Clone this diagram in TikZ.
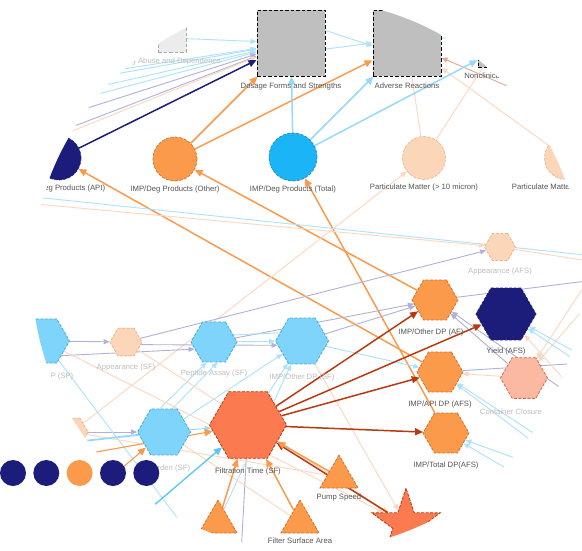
\documentclass[tikz,border=0pt]{standalone}
\usepackage{fontspec}
\setmainfont{Liberation Sans}
\usepackage{tikz}
\usepackage{xcolor}
\definecolor{netnavy}{RGB}{28, 28, 122}
\definecolor{netorange}{RGB}{252, 154, 76}
\definecolor{netorangedk}{RGB}{214, 112, 44}
\definecolor{netblue}{RGB}{27, 180, 246}
\definecolor{netbluedk}{RGB}{22, 140, 200}
\definecolor{netsky}{RGB}{126, 212, 250}
\definecolor{netskydk}{RGB}{70, 170, 222}
\definecolor{netpeach}{RGB}{252, 214, 184}
\definecolor{netpeachdk}{RGB}{240, 180, 140}
\definecolor{netcoral}{RGB}{252, 122, 80}
\definecolor{netrust}{RGB}{184, 58, 16}
\definecolor{netsalmon}{RGB}{251, 185, 162}
\definecolor{netsalmondk}{RGB}{208, 108, 78}
\definecolor{netgray}{RGB}{191, 191, 191}
\definecolor{skyline}{RGB}{150, 218, 250}
\definecolor{linksky}{RGB}{172, 226, 251}
\definecolor{linklav}{RGB}{176, 176, 218}
\definecolor{linkpeach}{RGB}{252, 214, 190}
\definecolor{linkbrown}{RGB}{220, 172, 150}
\definecolor{labelgray}{RGB}{85, 85, 85}
\definecolor{fadegray}{RGB}{190, 190, 190}
\usetikzlibrary{shapes.geometric,arrows.meta,backgrounds,positioning}

\begin{document}
\begin{tikzpicture}[x=1pt, y=-1pt,
    lbl/.style={font=\fontsize{7.7}{9}\selectfont, text=labelgray, inner sep=1pt},
    fadelbl/.style={lbl, text=fadegray},
    boxnode/.style={rectangle, draw=black, fill=netgray, dash pattern=on 3.5pt off 2pt, line width=1pt, inner sep=0pt},
    degnode/.style={circle, dash pattern=on 3pt off 1.5pt, line width=0.7pt, inner sep=0pt},
    hexnode/.style={regular polygon, regular polygon sides=6, dash pattern=on 3pt off 1.5pt, line width=0.8pt, inner sep=0pt},
    trinode/.style={regular polygon, regular polygon sides=3, fill=netorange, draw=netorangedk, dash pattern=on 3pt off 1.5pt, line width=0.8pt, inner sep=0pt, minimum size=44pt},
    link/.style={line width=0.9pt, -{Triangle[length=6pt,width=5pt]}},
    flow/.style={line width=1.5pt, -{Triangle[length=8pt,width=7pt]}}
]
    \useasboundingbox (0,0) rectangle (582,550);

    \begin{scope}
        \clip (307,275) circle [radius=275pt];

        % Sections (boxes)
        \node[boxnode, draw=gray!70, fill=gray!15, minimum size=28pt, label={[fadelbl, label distance=4pt, xshift=-2pt]below:Drug Abuse and Dependence}] (abuse) at (172,38) {};
        \node[boxnode, minimum width=68pt, minimum height=66pt, label={[lbl, label distance=5pt]below:Dosage Forms and Strengths}] (dosage) at (291,43) {};
        \node[boxnode, minimum width=68pt, minimum height=66pt, label={[lbl, label distance=5pt]below:Adverse Reactions}] (adverse) at (407,43) {};
        \node[boxnode, minimum size=30pt, label={[lbl, label distance=4pt, xshift=-10pt]below:Nonclinical}] (nonclin) at (493,52) {};

        % Degradation products
        \node[degnode, fill=netnavy, draw=netnavy, minimum size=44pt, label={[lbl, label distance=3pt, xshift=5pt]below:IMP/Deg Products (API)}] (degapi) at (59,158) {};
        \node[degnode, fill=netorange, draw=netorangedk, minimum size=44pt, label={[lbl, label distance=3pt]below:IMP/Deg Products (Other)}] (degother) at (175,159) {};
        \node[degnode, fill=netblue, draw=netbluedk, minimum size=48pt, label={[lbl, label distance=3pt]below:IMP/Deg Products (Total)}] (degtotal) at (293,157) {};
        \node[degnode, fill=netpeach, draw=netpeachdk, minimum size=43pt, label={[lbl, label distance=3pt]below:Particulate Matter (> 10 micron)}] (partmat) at (424,158) {};
        \node[degnode, fill=netpeach, draw=netpeachdk, minimum size=43pt, label={[lbl, label distance=3pt]below:Particulate Matter (> 25 micron)}] (partmatb) at (566,158) {};

        % Attributes (hexagons)
        \node[hexnode, fill=netpeach, draw=netpeachdk, minimum size=31pt, label={[fadelbl, label distance=6pt]below:Appearance (AFS)}] (appafs) at (500,247) {};
        \node[hexnode, fill=netorange, draw=netorangedk, minimum size=46pt, label={[lbl, label distance=7pt, xshift=-4pt]below:IMP/Other DP (AF)}] (othaf) at (435,300) {};
        \node[hexnode, fill=netnavy, draw=netnavy, minimum size=60pt, label={[lbl, label distance=6pt]below:Yield (AFS)}] (yield) at (506,314) {};
        \node[hexnode, fill=netorange, draw=netorangedk, minimum size=46pt, label={[lbl, label distance=7pt]below:IMP/API DP (AFS)}] (apiafs) at (440,372) {};
        \node[hexnode, fill=netsalmon, draw=netsalmondk, minimum size=47pt, label={[fadelbl, label distance=9pt, xshift=-13pt]below:Container Closure}] (closure) at (524,378) {};
        \node[hexnode, fill=netorange, draw=netorangedk, minimum size=46pt, label={[lbl, label distance=7pt]below:IMP/Total DP(AFS)}] (totafs) at (446,433) {};
        \node[hexnode, fill=netpeach, draw=netpeachdk, minimum size=32pt, label={[fadelbl, label distance=6pt]below:Appearance (SF)}] (appsf) at (126,342) {};
        \node[hexnode, fill=netsky, draw=netskydk, minimum size=46pt, label={[fadelbl, label distance=6pt]below:Peptide Assay (SF)}] (peptide) at (214,342) {};
        \node[hexnode, fill=netsky, draw=netskydk, minimum size=53pt, label={[fadelbl, label distance=8pt]below:IMP/Other DP (SF)}] (othsf) at (302,341) {};
        \node[hexnode, fill=netsky, draw=netskydk, minimum size=51pt, label={[fadelbl, label distance=8pt]below:IMP/API DP (SP)}] (apisf) at (44,341) {};
        \node[hexnode, fill=netsky, draw=netskydk, minimum size=53pt, label={[fadelbl, label distance=8pt]below:Bioburden (SF)}] (bioburden) at (164,432) {};
        \node[hexnode, fill=netpeach, draw=netpeachdk, minimum size=32pt] (appleft) at (72,432) {};
        \node[hexnode, fill=netcoral, draw=netrust, minimum size=77pt, label={[lbl, label distance=8pt]below:Filtration Time (SF)}] (filt) at (248,425) {};

        % Process parameters
        \node[trinode, label={[lbl, label distance=4pt]below:Pump Speed}] (pump) at (339,477) {};
        \node[trinode] (trileft) at (218,522) {};
        \node[trinode, label={[lbl, label distance=3pt]below:Filter Surface Area}] (filtsurf) at (300,522) {};
        \node[star, star points=5, star point ratio=2.6, minimum size=72pt, fill=netcoral, draw=netrust, dash pattern=on 3pt off 1.5pt, line width=0.8pt, inner sep=0pt] (starnode) at (406,524) {};
    \end{scope}

    \begin{pgfonlayer}{background}
    \fill[white] (0,0) rectangle (582,550);
    \begin{scope}
        \clip (307,275) circle [radius=275pt];

        % Free ends outside the lens
        \coordinate (inA) at (30,112);
        \coordinate (inB) at (40,100);
        \coordinate (inC) at (70,82);
        \coordinate (inD) at (78,76);
        \coordinate (inE) at (25,128);
        \coordinate (inF) at (25,145);
        \coordinate (inG) at (20,152);
        \coordinate (outAR) at (505,30);
        \coordinate (inNE) at (540,100);
        \coordinate (inLa) at (25,196);
        \coordinate (outRa) at (595,256);
        \coordinate (inLb) at (25,203);
        \coordinate (outRb) at (595,262);
        \coordinate (outRc) at (595,280);
        \coordinate (inRa) at (585,405);
        \coordinate (outRd) at (600,362);
        \coordinate (inRb) at (600,262);
        \coordinate (inRc) at (612,276);
        \coordinate (inRd) at (590,360);
        \coordinate (inRe) at (596,374);
        \coordinate (inRf) at (600,420);
        \coordinate (inSEa) at (580,477);
        \coordinate (inSEb) at (590,470);
        \coordinate (inSEc) at (575,480);
        \coordinate (inSEd) at (560,500);
        \coordinate (inSW) at (125,530);
        \coordinate (inW) at (40,462);
        \coordinate (inWb) at (100,487);
        \coordinate (outW) at (30,447);
        \coordinate (outS) at (200,548);
        \coordinate (outSb) at (240,575);

        % Into Dosage Forms from the left
        \foreach \src in {inA, inB, inC, inD} {
            \draw[link, linksky] (\src) -- (dosage);
        }
        \draw[link, linklav] (inE) -- (dosage);
        \draw[link, linklav] (inF) -- (dosage);
        \draw[link, linkpeach] (inG) -- (dosage);
        \draw[link, linksky] (abuse) -- (dosage);

        % Top right
        \draw[link, linksky] (dosage.20) -- (adverse.185);
        \draw[link, linksky] (dosage.-10) -- (adverse.180);
        \draw[line width=0.9pt, linksky] (adverse) -- (outAR);
        \draw[link, linkbrown] (inNE) -- (adverse);
        \draw[link, linkpeach] (partmatb) -- (adverse);
        \draw[line width=0.9pt, linkpeach] (partmat) -- (adverse);
        \draw[line width=0.9pt, linkpeach] (partmat) -- (nonclin);

        % Degradation products to sections
        \draw[flow, netnavy] (degapi) -- (dosage);
        \draw[flow, netorange] (degother) -- (dosage);
        \draw[flow, netorange] (degother) -- (adverse);
        \draw[flow, skyline] (degtotal) -- (dosage);
        \draw[flow, skyline] (degtotal) -- (adverse);
        \draw[flow, skyline] (degtotal) -- (nonclin);
        \draw[flow, netorange] (othaf) -- (degother);
        \draw[flow, netorange] (apiafs) -- (degapi);
        \draw[flow, netorange] (totafs) -- (degtotal);

        % Long faint lines across the middle
        \draw[line width=0.9pt, linksky] (inLa) -- (outRa);
        \draw[link, linkpeach] (inLb) -- (appafs);
        \draw[line width=0.9pt, linkpeach] (appafs) -- (outRb);
        \draw[link, linkpeach] (appleft) -- (partmat);

        % Subvisible (SF) chain
        \draw[link, linklav] (apisf) -- (appsf);
        \draw[link, linklav] (apisf.-40) -- (peptide.200);
        \draw[link, linklav] (appsf) -- (appafs);
        \draw[link, linklav] (appsf.-10) -- (othsf.190);
        \draw[link, linklav] (peptide) -- (othaf);
        \draw[link, linklav] (othsf) -- (othaf);
        \draw[line width=0.9pt, linklav] (othaf) -- (outRc);
        \draw[link, linklav] (closure) -- (othaf);
        \draw[link, linklav] (inRa) -- (othaf);
        \draw[line width=0.9pt, linklav] (apiafs) -- (outRd);
        \draw[link, linklav] (appleft) -- (bioburden);
        \draw[line width=0.9pt, linklav] (filt) -- (outSb);
        \draw[link, linksky] (peptide) -- (othsf);
        \draw[line width=0.9pt, linksky] (peptide.20) -- (othsf.160);
        \draw[link, linksky] (bioburden.100) -- (peptide.250);
        \draw[link, linksky] (bioburden.70) -- (peptide.280);
        \draw[link, linksky] (filt) -- (othsf);
        \draw[link, linksky] (bioburden) -- (othsf);
        \draw[link, linksky] (trileft) -- (othsf);
        \draw[link, linksky] (othsf) -- (apiafs);
        \draw[line width=0.9pt, linksky] (apisf) -- (outS);

        % Lower right
        \draw[link, linkpeach] (inRb) -- (closure);
        \draw[link, linkpeach] (inRc) -- (closure);
        \draw[link, linkpeach] (closure) -- (apiafs);
        \draw[link, linksky] (inRd) -- (yield);
        \draw[link, linksky] (inRe) -- (yield);
        \draw[link, linkpeach] (inRf) -- (yield);
        \draw[link, linksky] (inSEa) -- (apiafs);
        \draw[link, linksky] (inSEb) -- (apiafs);
        \draw[link, linksky] (inSEc) -- (totafs);
        \draw[link, linksky] (inSEd) -- (totafs);

        % Faint peach lines towards the bottom
        \draw[link, linkpeach] (apisf) -- (starnode);
        \draw[link, linkpeach] (appsf) -- (starnode);
        \draw[link, linkpeach] (othsf) -- (starnode);
        \draw[line width=0.9pt, linkpeach] (appleft) -- (pump);
        \draw[line width=0.9pt, linkpeach] (bioburden) -- (filtsurf);

        % Into Filtration Time
        \draw[link, skyline] (bioburden) -- (filt);
        \draw[flow, netblue!75, line width=1.3pt] (inSW) -- (filt);
        \draw[flow, netorange, line width=1.1pt] (inW) -- (filt);
        \draw[flow, netorange, line width=1.1pt] (inWb) -- (bioburden);
        \draw[skyline, line width=1.8pt] (bioburden) -- (outW);
        \draw[flow, netrust] (starnode) -- (filt);
        \draw[flow, netorange] (pump) -- (filt);
        \draw[flow, netorange] (filtsurf) -- (filt);
        \draw[flow, netorange] (trileft) -- (filt);

        % Out of Filtration Time
        \foreach \dst in {othaf, yield, apiafs, totafs} {
            \draw[flow, netrust] (filt) -- (\dst);
        }
    \end{scope}
    \end{pgfonlayer}

    % Legend dots
    \foreach \i/\x/\c in {1/13/netnavy, 2/46.3/netnavy, 3/79.6/netorange, 4/113/netnavy, 5/146.3/netnavy} {
        \node[circle, fill=\c, minimum size=26pt, inner sep=0pt] (dot\i) at (\x,473) {};
    }
\end{tikzpicture}
\end{document}
